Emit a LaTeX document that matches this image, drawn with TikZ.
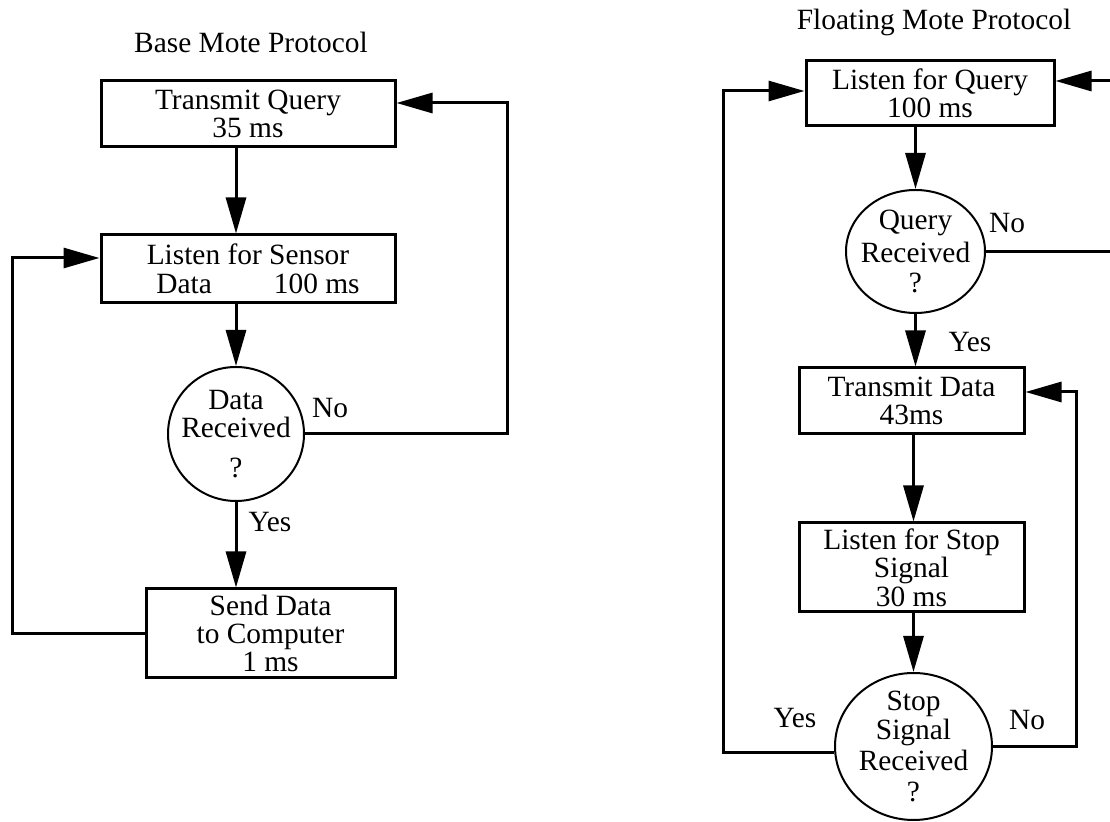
\documentclass[tikz,border=0pt]{standalone}
\usepackage{fontspec}
\setmainfont{Liberation Serif}
\usetikzlibrary{arrows.meta,shapes.geometric}

\begin{document}
\begin{tikzpicture}[x=0.5pt, y=-0.5pt, font=\fontsize{14.7}{14.2}\selectfont,
  stepbox/.style={draw, line width=1.5pt, align=center, inner sep=0pt},
  decision/.style={draw, ellipse, line width=1pt, align=center, inner sep=-8pt},
  arr/.style={line width=1.5pt, -{Triangle[length=18pt, width=10pt]}}]

\useasboundingbox (0,0) rectangle (1110,822);
\clip (0,0) rectangle (1110,822);

% Base mote
\begin{scope}
\node (btitle) at (251,42) {Base Mote Protocol};

\node[stepbox, minimum width=147pt, minimum height=33pt] (tq) at (248,114) {Transmit Query\\35 ms};
\node[stepbox, minimum width=147pt, minimum height=34pt] (lsd) at (248,269) {Listen for Sensor\\\hspace*{10pt}Data\hspace{31pt}100 ms};
\node[decision, minimum width=68pt, minimum height=67pt] (dr) at (236,434) {Data\\Received\\[6pt]?};
\node[stepbox, minimum width=124.5pt, minimum height=44.5pt] (sdc) at (270.5,633.5) {Send Data\\to Computer\\1 ms};

\node (dno) at (330,408) {No};
\node (dyes) at (270,522) {Yes};

\coordinate (nb) at (507,103);
\coordinate (lb) at (12,258);

\draw[arr] (tq.south -| dr.north) -- (lsd.north -| dr.north);
\draw[arr] (lsd.south -| dr.north) -- (dr.north);
\draw[arr] (dr.south) -- (sdc.north -| dr.south);
\draw[arr] (dr.east) -| (nb) -- (nb -| tq.east);
\draw[arr] (sdc.west) -| (lb) -- (lb -| lsd.west);
\end{scope}

% Floating mote
\begin{scope}
\node (ftitle) at (934,22) {Floating Mote Protocol};

\node[stepbox, minimum width=124pt, minimum height=32.5pt] (lq) at (930,93.5) {Listen for Query\\100 ms};
\node[decision, minimum width=69.5pt, minimum height=61.5pt] (qr) at (915.5,251.5) {Query\\[2.5pt]Received\\[1pt]?};
\node[stepbox, minimum width=112.5pt, minimum height=33pt] (td) at (911.5,401) {Transmit Data\\43ms};
\node[stepbox, minimum width=112.5pt, minimum height=44.5pt] (lss) at (911.5,567.5) {Listen for Stop\\Signal\\30 ms};
\node[decision, minimum width=78.5pt, minimum height=73.5pt] (ssr) at (913.5,746.5) {Stop\\Signal\\[1.5pt]Received\\[1pt]?};

\node (qno) at (1007,223) {No};
\node (qyes) at (970,342) {Yes};
\node (syes) at (795,718) {Yes};
\node (sno) at (1027,720) {No};

\coordinate (rb) at (1130,81);
\coordinate (yb) at (723,91);
\coordinate (nb2) at (1076,392);

\draw[arr] (lq.south -| qr.north) -- (qr.north);
\draw[arr] (qr.east) -| (rb) -- (rb -| lq.east);
\draw[arr] (qr.south) -- (td.north -| qr.south);
\draw[arr] (td.south -| ssr.north) -- (lss.north -| ssr.north);
\draw[arr] (lss.south -| ssr.north) -- (ssr.north);
\draw[arr] (ssr.184) -| (yb) -- (yb -| lq.west);
\draw[arr] (ssr.east) -| (nb2) -- (nb2 -| td.east);
\end{scope}

\end{tikzpicture}
\end{document}
